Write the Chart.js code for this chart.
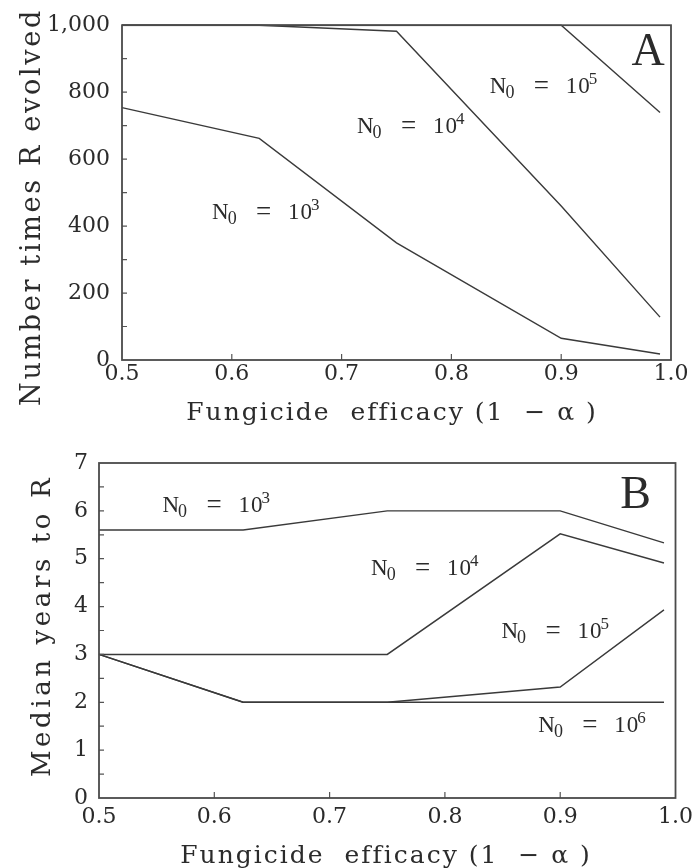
<!DOCTYPE html>
<html><head><meta charset="utf-8">
<script src="https://cdn.jsdelivr.net/npm/chart.js@4.4.1/dist/chart.umd.min.js"></script>
<style>
body{margin:0;background:#fff;}
.wrap{position:absolute;left:0;width:699px;}
</style>
</head><body>
<div class="wrap" style="top:0;height:430px"><canvas id="chartA"></canvas></div>
<div class="wrap" style="top:430px;height:438px"><canvas id="chartB"></canvas></div>
<script>
// ---- data ----
const efficacy = [0.5, 0.625, 0.75, 0.9, 0.99];
// Panel A: number of times R evolved (out of 1,000)
const timesN3 = [754, 662, 350, 65, 18];
const timesN4 = [1000, 1000, 982, 460, 128];
const timesN5 = [1000, 1000, 1000, 1000, 739];
// Panel B: median years to R
const yearsN3 = [5.6, 5.6, 6.0, 6.0, 5.33];
const yearsN4 = [3, 3, 3, 5.52, 4.91];
const yearsN5 = [3, 2, 2, 2.32, 3.93];
const yearsN6 = [3, 2, 2, 2, 2];
// tick values
const xTicks = [0.6, 0.7, 0.8, 0.9];
const yMinorA = [100, 200, 300, 400, 500, 600, 700, 800, 900];
const yMinorB = [0.5, 1, 1.5, 2, 2.5, 3, 3.5, 4, 4.5, 5, 5.5, 6, 6.5];
// curve labels: [x, y, exponent]
const labelsA = [[0.582, 421, '3'], [0.714, 677, '4'], [0.835, 798, '5']];
const labelsB = [[0.555, 5.98, '3'], [0.736, 4.66, '4'], [0.849, 3.34, '5'], [0.881, 1.38, '6']];

const LINE = '#3a3a3a';
const TXT = '#2b2b2b';
const SERIF = '"DejaVu Serif", serif';
const LAB = '"Liberation Serif", serif';

function pts(ys){ return efficacy.map((x,i)=>({x:x, y:ys[i]})); }
function ds(ys){ return {data: pts(ys), borderColor: LINE, borderWidth: 1.4, pointRadius: 0, tension: 0, fill:false, clip:false}; }

function drawN(ctx, x, y, exp){
  ctx.save();
  ctx.fillStyle = TXT;
  ctx.textBaseline = 'alphabetic';
  ctx.textAlign = 'left';
  ctx.font = '23px ' + LAB;
  ctx.fillText('N', x, y);
  const wN = ctx.measureText('N').width;
  ctx.font = '18px ' + LAB;
  ctx.fillText('0', x + wN - 1, y + 5);
  ctx.font = '27px ' + LAB;
  ctx.fillText('=', x + 44, y + 1);
  ctx.font = '23px ' + LAB;
  try { ctx.letterSpacing = '1px'; } catch(e) {}
  ctx.fillText('10', x + 76, y);
  const w10 = ctx.measureText('10').width;
  try { ctx.letterSpacing = '0px'; } catch(e) {}
  ctx.font = '17px ' + LAB;
  ctx.fillText(exp, x + 76 + w10 - 2, y - 9);
  ctx.restore();
}

function spacedText(ctx, text, x, y, font, spacing, rot){
  ctx.save();
  ctx.fillStyle = TXT;
  ctx.font = font;
  try { ctx.letterSpacing = spacing + 'px'; } catch(e) {}
  ctx.textAlign = 'center';
  ctx.textBaseline = 'alphabetic';
  ctx.translate(x, y);
  if (rot) ctx.rotate(rot);
  ctx.fillText(text, 0, 0);
  ctx.restore();
}

function makeDecor(cfg){
  return {
    id: 'decor',
    afterDatasetsDraw(chart){
      const ctx = chart.ctx, a = chart.chartArea;
      const xs = chart.scales.x, ys = chart.scales.y;
      ctx.save();
      // tick marks (inward)
      ctx.strokeStyle = '#555';
      ctx.lineWidth = 1.2;
      ctx.beginPath();
      cfg.yMinor.forEach(v => { const py = ys.getPixelForValue(v); ctx.moveTo(a.left, py); ctx.lineTo(a.left + 5, py); });
      xTicks.forEach(v => { const px = xs.getPixelForValue(v); ctx.moveTo(px, a.bottom); ctx.lineTo(px, a.bottom - 6); });
      ctx.stroke();
      // frame
      ctx.strokeStyle = '#4a4a4a';
      ctx.lineWidth = 1.8;
      ctx.strokeRect(a.left, a.top, a.right - a.left, a.bottom - a.top);
      ctx.restore();
      // curve labels
      cfg.labels.forEach(l => drawN(ctx, xs.getPixelForValue(l[0]), ys.getPixelForValue(l[1]), l[2]));
      // panel letter
      ctx.save();
      ctx.fillStyle = TXT;
      ctx.font = '46px ' + LAB;
      ctx.textBaseline = 'alphabetic';
      ctx.fillText(cfg.letter, xs.getPixelForValue(cfg.letterPos[0]), ys.getPixelForValue(cfg.letterPos[1]));
      ctx.restore();
      // axis titles
      spacedText(ctx, 'Fungicide  efficacy (1  \u2212 \u03B1 )', cfg.xTitle[0], cfg.xTitle[1], '25px ' + SERIF, 2, 0);
      spacedText(ctx, cfg.yTitleText, cfg.yTitle[0], cfg.yTitle[1], cfg.yTitleFont, cfg.yTitleSp, -Math.PI/2);
    }
  };
}

function makeChart(id, datasets, yOpts, geom, decor){
  return new Chart(document.getElementById(id), {
    type: 'line',
    data: { datasets: datasets },
    options: {
      responsive: true, maintainAspectRatio: false, animation: false,
      layout: { padding: { top: geom.top, right: geom.right, left: 0, bottom: 0 } },
      plugins: { legend: { display: false }, tooltip: { enabled: false } },
      scales: {
        x: {
          type: 'linear', min: 0.5, max: 1.0,
          grid: { display: false, drawTicks: false }, border: { display: false },
          ticks: { stepSize: 0.1, padding: geom.xPad, color: TXT, font: { family: SERIF, size: 22 },
                   callback: v => Number(v).toFixed(1), maxRotation: 0, autoSkip: false },
          afterFit: s => { s.height = geom.xH; }
        },
        y: Object.assign({
          grid: { display: false, drawTicks: false }, border: { display: false },
          afterFit: s => { s.width = geom.yW; }
        }, yOpts)
      }
    },
    plugins: [makeDecor(decor)]
  });
}

makeChart('chartA', [ds(timesN3), ds(timesN4), ds(timesN5)], {
  min: 0, max: 1000,
  ticks: { stepSize: 200, padding: 12, color: TXT, font: { family: SERIF, size: 22 },
           callback: v => Number(v).toLocaleString('en-US') }
}, { top: 23, right: 28, xH: 70, yW: 122, xPad: 1 }, {
  yMinor: yMinorA, labels: labelsA, letter: 'A', letterPos: [0.964, 881],
  xTitle: [392, 420], yTitle: [40, 207], yTitleText: 'Number times R evolved', yTitleFont: '27px ' + SERIF, yTitleSp: 2.7
});

makeChart('chartB', [ds(yearsN3), ds(yearsN4), ds(yearsN5), ds(yearsN6)], {
  min: 0, max: 7,
  ticks: { stepSize: 1, padding: 11, color: TXT, font: { family: SERIF, size: 22 } }
}, { top: 33, right: 21, xH: 70, yW: 99, xPad: 6 }, {
  yMinor: yMinorB, labels: labelsB, letter: 'B', letterPos: [0.952, 6.06],
  xTitle: [386, 433], yTitle: [50, 196], yTitleText: 'Median years to R', yTitleFont: '26px ' + SERIF, yTitleSp: 3.6
});
</script>
</body></html>
